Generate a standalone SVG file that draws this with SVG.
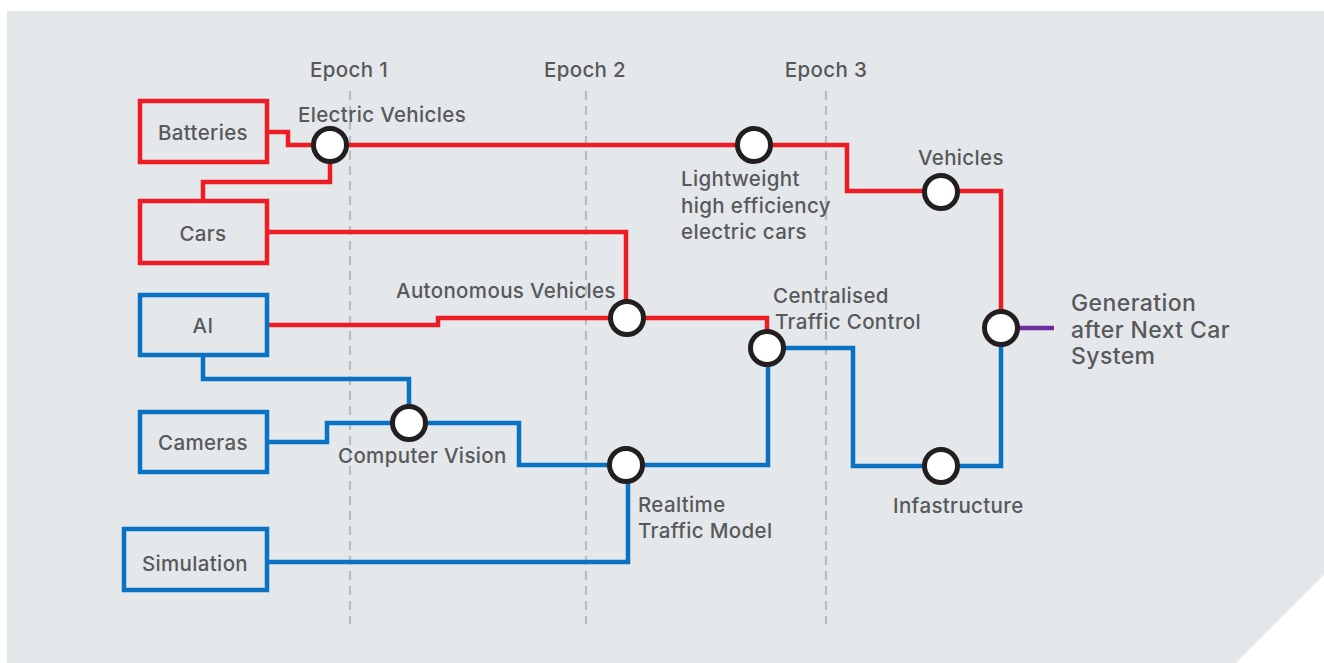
<svg xmlns="http://www.w3.org/2000/svg" width="1324" height="663" viewBox="0 0 1324 663">
  <style>
    .bg { fill: #e4e8eb; }
    .epoch { stroke: #b9bcbf; stroke-width: 2.2; stroke-dasharray: 9 6; fill: none; }
    .box-red { fill: none; stroke: #ee1c25; stroke-width: 4.5; }
    .box-blue { fill: none; stroke: #0a72c2; stroke-width: 4.5; }
    .red { fill: none; stroke: #ee1c25; stroke-width: 4.5; }
    .blue { fill: none; stroke: #0a72c2; stroke-width: 4.5; }
    .purple { fill: none; stroke: #6b2fa0; stroke-width: 4.5; }
    .stop { fill: #ffffff; stroke: #231f20; stroke-width: 5; }
    text { font-family: Inter, "Noto Sans", "Liberation Sans", sans-serif; font-weight: 500; fill: #58595b; font-size: 20.5px; letter-spacing: 0.35px; }
    .mid { text-anchor: middle; }
    .big { font-size: 23px; letter-spacing: 0.4px; }
  </style>

  <!-- panel with clipped lower-right corner -->
  <polygon class="bg" points="7,11 1324,11 1324,575 1236,663 7,663"/>

  <!-- epoch markers -->
  <g id="epochs">
    <line class="epoch" x1="350" y1="91" x2="350" y2="624"/>
    <line class="epoch" x1="586" y1="91" x2="586" y2="624"/>
    <line class="epoch" x1="826" y1="91" x2="826" y2="624"/>
    <text class="mid" x="349" y="77">Epoch 1</text>
    <text class="mid" x="585" y="77">Epoch 2</text>
    <text class="mid" x="826" y="77">Epoch 3</text>
  </g>

  <!-- connectors -->
  <g id="connectors">
    <path class="red" d="M267,132 H288 V145 H330"/>
    <path class="red" d="M330,145 V182 H203 V201"/>
    <path class="red" d="M330,145 H847 V191 H1001 V328"/>
    <path class="red" d="M267,232 H626 V318"/>
    <path class="red" d="M267,325 H438 V318 H767 V348"/>
    <path class="blue" d="M203,357 V379 H409 V423"/>
    <path class="blue" d="M267,442 H327 V423 H519 V465 H768 V348"/>
    <path class="blue" d="M267,562 H628 V465"/>
    <path class="blue" d="M767,348 H853 V466 H1001 V328"/>
    <path class="purple" d="M1001,328 H1054"/>
  </g>

  <!-- source boxes -->
  <g id="batteries">
    <rect class="box-red" x="140" y="101" width="127" height="61"/>
    <text class="mid" x="203" y="140">Batteries</text>
  </g>
  <g id="cars">
    <rect class="box-red" x="140" y="201" width="127" height="62"/>
    <text class="mid" x="203" y="241">Cars</text>
  </g>
  <g id="ai">
    <rect class="box-blue" x="140" y="295" width="127" height="60"/>
    <text class="mid" x="203" y="333">AI</text>
  </g>
  <g id="cameras">
    <rect class="box-blue" x="140" y="412" width="127" height="60"/>
    <text class="mid" x="203" y="450">Cameras</text>
  </g>
  <g id="simulation">
    <rect class="box-blue" x="124" y="529" width="143" height="61"/>
    <text class="mid" x="195" y="571">Simulation</text>
  </g>

  <!-- stations -->
  <g id="electric-vehicles">
    <circle class="stop" cx="330" cy="145" r="16.5"/>
    <text x="298" y="122">Electric Vehicles</text>
  </g>
  <g id="lightweight">
    <circle class="stop" cx="754" cy="145" r="16.5"/>
    <text x="681" y="186">Lightweight</text>
    <text x="681" y="213">high efficiency</text>
    <text x="681" y="239">electric cars</text>
  </g>
  <g id="vehicles">
    <circle class="stop" cx="941" cy="192" r="16.5"/>
    <text x="918" y="165">Vehicles</text>
  </g>
  <g id="autonomous-vehicles">
    <circle class="stop" cx="627" cy="318" r="16.5"/>
    <text x="396" y="298">Autonomous Vehicles</text>
  </g>
  <g id="centralised">
    <circle class="stop" cx="767" cy="348" r="16.5"/>
    <text x="773" y="303">Centralised</text>
    <text x="775" y="329">Traffic Control</text>
  </g>
  <g id="computer-vision">
    <circle class="stop" cx="409" cy="423" r="16.5"/>
    <text x="338" y="463">Computer Vision</text>
  </g>
  <g id="realtime">
    <circle class="stop" cx="626" cy="465" r="16.5"/>
    <text x="638" y="512">Realtime</text>
    <text x="638" y="538">Traffic Model</text>
  </g>
  <g id="infastructure">
    <circle class="stop" cx="941" cy="466" r="16.5"/>
    <text x="893" y="513">Infastructure</text>
  </g>
  <g id="generation">
    <circle class="stop" cx="1001" cy="328" r="16.5"/>
    <text class="big" x="1071" y="311">Generation</text>
    <text class="big" x="1071" y="338">after Next Car</text>
    <text class="big" x="1071" y="364">System</text>
  </g>
</svg>
